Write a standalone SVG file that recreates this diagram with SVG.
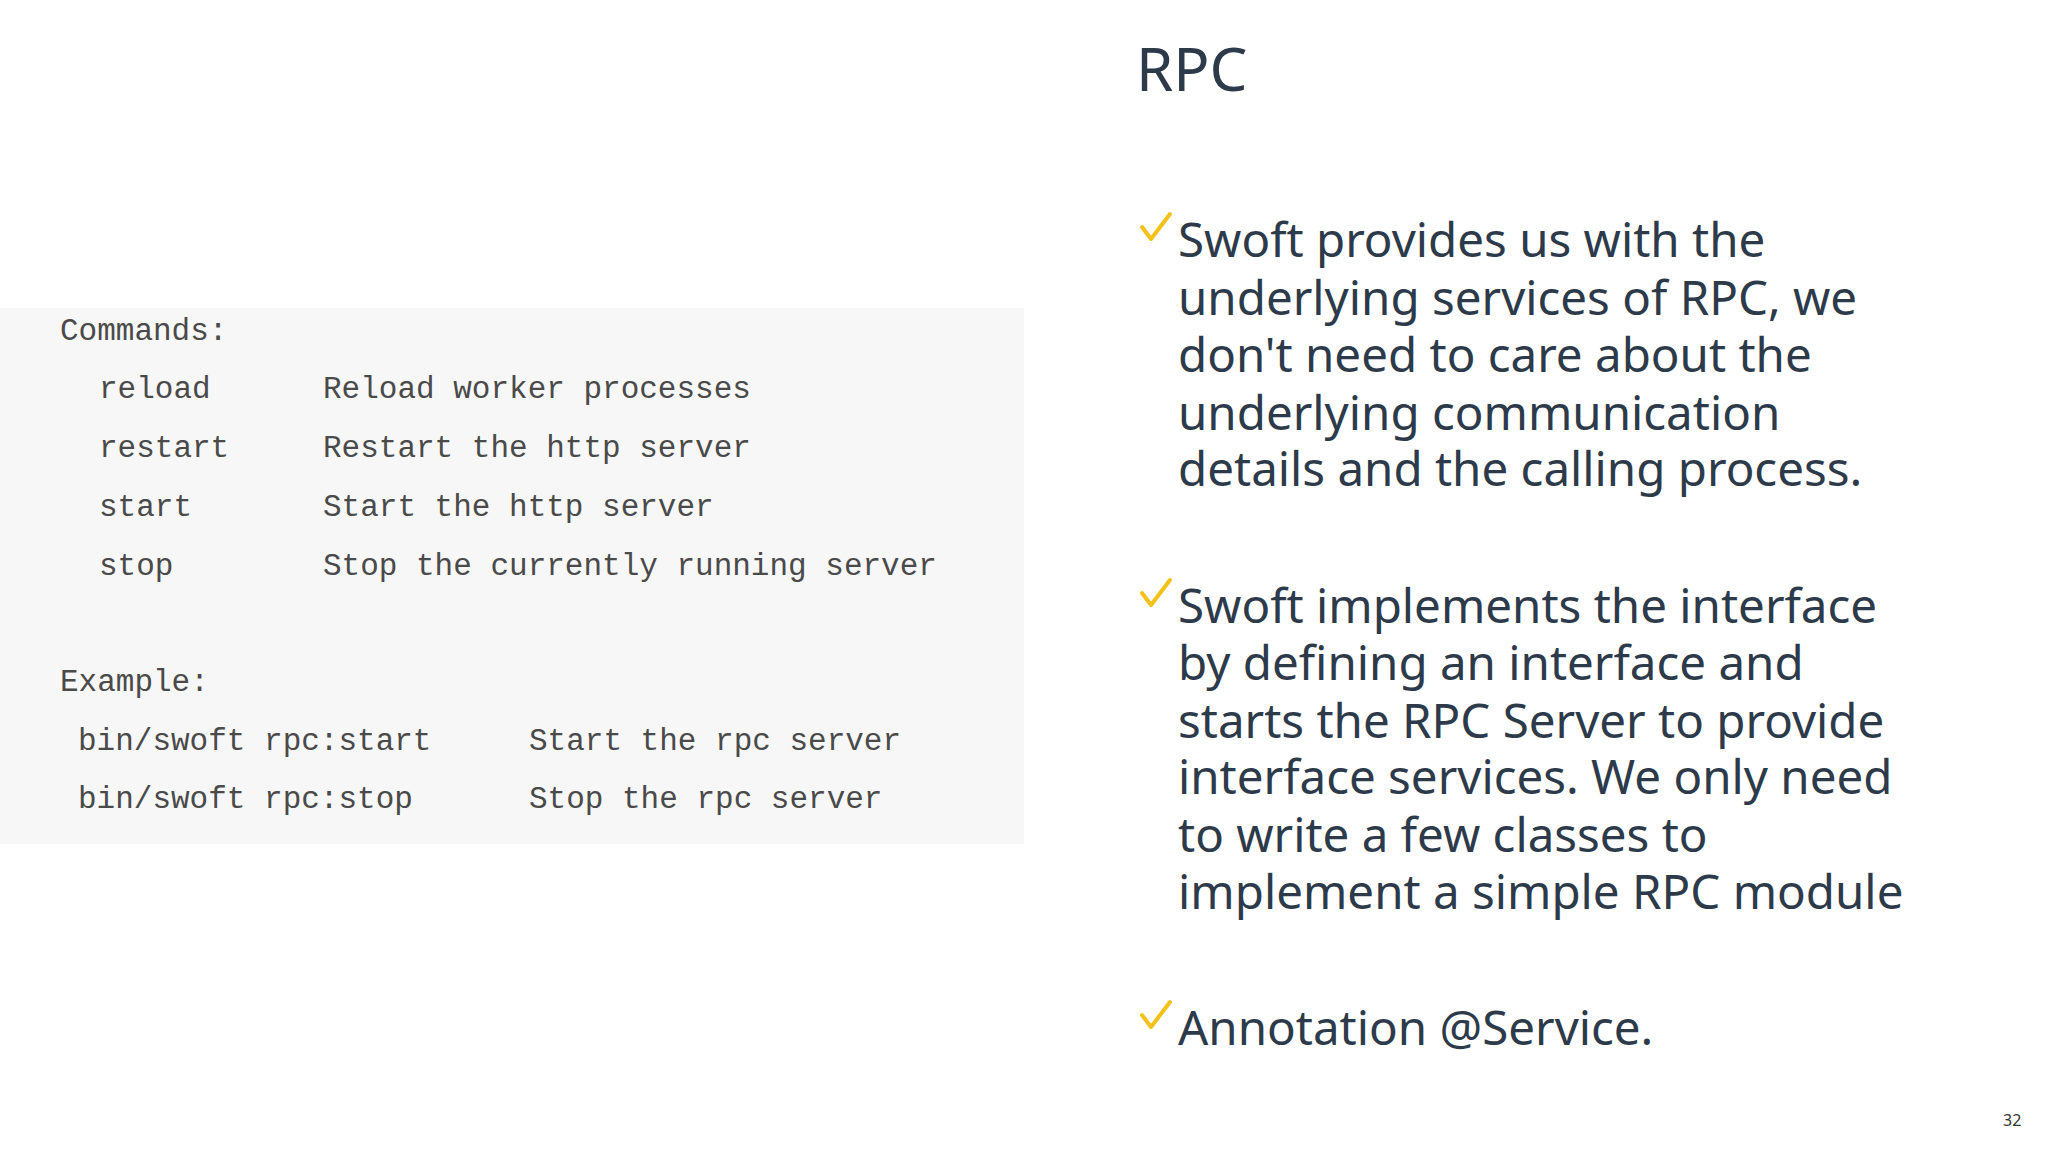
<svg xmlns="http://www.w3.org/2000/svg" width="2048" height="1152" viewBox="0 0 2048 1152">
<style>
.code{font-family:"Liberation Mono","DejaVu Sans Mono",monospace;font-size:31px;fill:#4a4a4a}
.b{font-family:"Noto Sans","Open Sans",sans-serif;font-size:47.5px;fill:#2d3a4a}
.chk{fill:none;stroke:#f2c21b;stroke-width:4;stroke-linecap:round;stroke-linejoin:round}
</style>
<rect width="2048" height="1152" fill="#fff"/>
<g id="code">
<rect x="0" y="308" width="1024" height="536" fill="#f7f7f7"/>
<text class="code" x="60" y="340">Commands:</text>
<text class="code" x="99" y="398">reload</text><text class="code" x="323" y="398">Reload worker processes</text>
<text class="code" x="99" y="457">restart</text><text class="code" x="323" y="457">Restart the http server</text>
<text class="code" x="99" y="516">start</text><text class="code" x="323" y="516">Start the http server</text>
<text class="code" x="99" y="575">stop</text><text class="code" x="323" y="575">Stop the currently running server</text>
<text class="code" x="60" y="691">Example:</text>
<text class="code" x="78" y="750">bin/swoft rpc:start</text><text class="code" x="529" y="750">Start the rpc server</text>
<text class="code" x="78" y="808">bin/swoft rpc:stop</text><text class="code" x="529" y="808">Stop the rpc server</text>
</g>
<g id="title"><text x="1136" y="91" font-family="Noto Sans, sans-serif" font-size="60" fill="#2d3a4a">RPC</text></g>
<g id="bullet1">
<path class="chk" d="M1142,227 L1151,239 L1170,214"/>
<text class="b" x="1178" y="257">Swoft provides us with the</text>
<text class="b" x="1178" y="315">underlying services of RPC, we</text>
<text class="b" x="1178" y="372">don't need to care about the</text>
<text class="b" x="1178" y="430">underlying communication</text>
<text class="b" x="1178" y="486">details and the calling process.</text>
</g>
<g id="bullet2">
<path class="chk" d="M1142,593 L1151,605 L1170,580"/>
<text class="b" x="1178" y="623">Swoft implements the interface</text>
<text class="b" x="1178" y="680">by defining an interface and</text>
<text class="b" x="1178" y="738">starts the RPC Server to provide</text>
<text class="b" x="1178" y="794">interface services. We only need</text>
<text class="b" x="1178" y="852">to write a few classes to</text>
<text class="b" x="1178" y="909">implement a simple RPC module</text>
</g>
<g id="bullet3">
<path class="chk" d="M1142,1015 L1151,1027 L1170,1002"/>
<text class="b" x="1178" y="1045">Annotation @Service.</text>
</g>
<text x="2003" y="1126" font-family="Noto Sans, sans-serif" font-size="16" fill="#333">32</text>
</svg>
